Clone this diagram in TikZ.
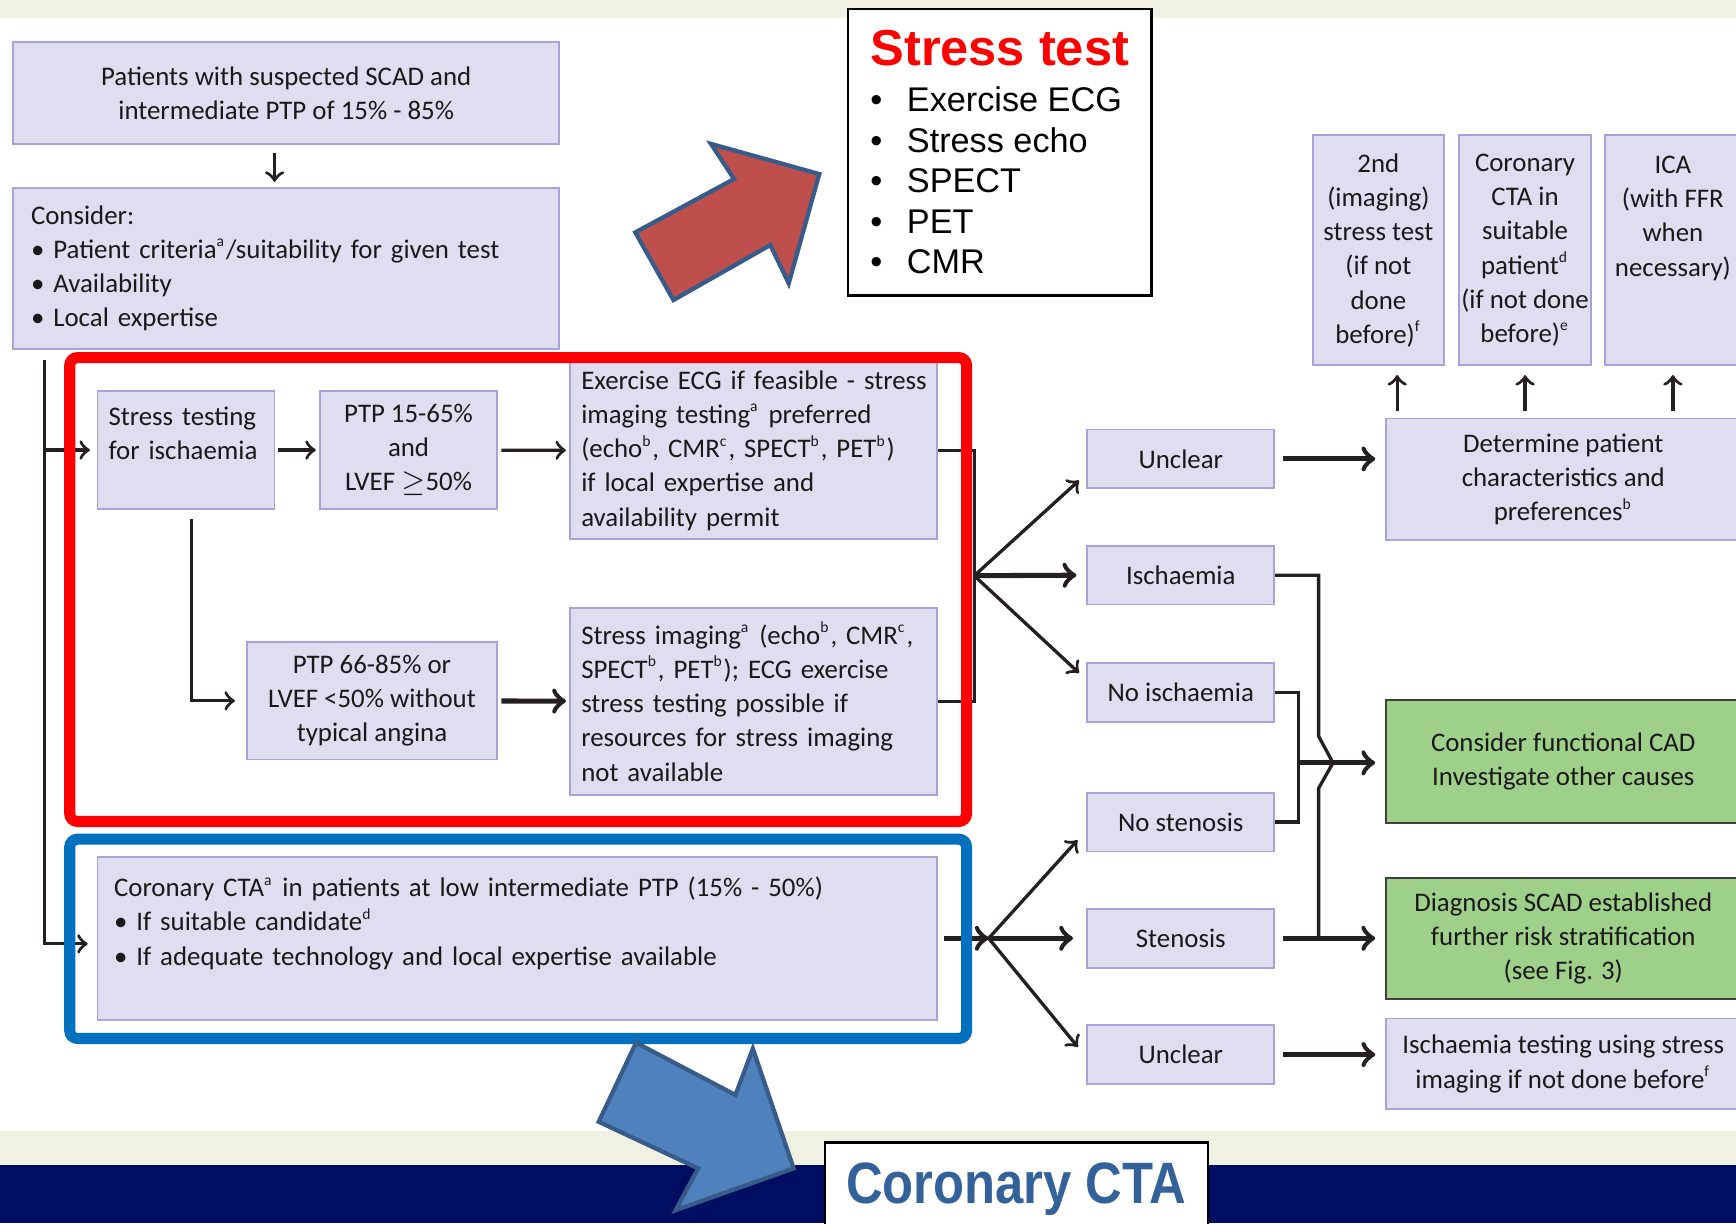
\documentclass[tikz,border=0pt]{standalone}
\usepackage{fontspec}
\usepackage{graphicx}
\usetikzlibrary{calc}

\newfontfamily\gillfont{Carlito}
\newfontfamily\arialfont{Liberation Sans}
\newcommand{\supra}[1]{\textsuperscript{\fontsize{4}{4}\selectfont #1}}

\definecolor{caixa}{rgb}{0.87,0.87,0.94}
\definecolor{caixaborda}{rgb}{0.66,0.64,0.84}
\definecolor{verde}{rgb}{0.62,0.815,0.54}
\definecolor{tinta}{rgb}{0.14,0.12,0.13}
\definecolor{vermelho}{rgb}{1,0,0}
\definecolor{azul}{rgb}{0,0.44,0.75}
\definecolor{setavermelha}{rgb}{0.75,0.31,0.30}
\definecolor{setaazul}{rgb}{0.31,0.51,0.74}
\definecolor{setaborda}{rgb}{0.22,0.36,0.54}
\definecolor{bege}{rgb}{0.94,0.94,0.89}
\definecolor{marinho}{rgb}{0,0.055,0.38}
\definecolor{ctatexto}{rgb}{0.2,0.38,0.6}

\begin{document}
\begin{tikzpicture}[
        x=0.1mm, y=-0.1mm,
        every node/.style={font=\gillfont\fontsize{6.9}{8.8}\selectfont, inner sep=0pt, text=black!90},
        nodebox/.style={rectangle, draw=caixaborda, fill=caixa, line width=0.45pt, align=center},
        nodeleft/.style={nodebox, align=left, inner xsep=1mm},
        nodeverde/.style={rectangle, draw=black!75, fill=verde, line width=0.5pt, align=center},
        nodeteste/.style={rectangle, draw=black, fill=white, line width=0.6pt, align=left, font=\arialfont\fontsize{8.8}{10.4}\selectfont, text=black},
        linha/.style={draw=tinta, line width=0.85pt},
        seta/.style={linha, ->},
        setagrossa/.style={seta, line width=1.3pt},
        moldura/.style={line width=1mm, rounded corners=0.7mm},
        blocoseta/.style={draw=setaborda, line width=1.1pt}
        ]
        \useasboundingbox (0,0) rectangle (1568,1105);
        \fill[white] (0,0) rectangle (1568,1105);
        \fill[bege] (0,0) rectangle (1568,16);
        \fill[bege] (0,1022) rectangle (1568,1052);
        \fill[marinho] (0,1052) rectangle (1568,1105);

        \node [nodebox, minimum width=49.3mm, minimum height=9.2mm] (patients) at (258.5,84)
          {Patients with suspected SCAD and\\intermediate PTP of 15\% - 85\%};
        \node [nodeleft, text width=46.1mm, inner xsep=1.6mm, minimum height=14.5mm] (consider) at (258.5,242.5)
          {Consider:\\• Patient criteria\supra{a}/suitability for given test\\• Availability\\• Local expertise};

        % bloco do teste de esforço
        \node [nodeleft, text width=14mm, minimum height=10.7mm] (stresstest) at (168,406.5) {Stress testing\\for ischaemia\\\mbox{}};
        \node [nodebox, minimum width=16mm, minimum height=10.7mm] (ptplow) at (369,406.5) {PTP 15-65\%\\and\\LVEF $\geq$50\%};
        \node [nodeleft, text width=31.1mm, minimum height=16mm] (exercise) at (680.5,407)
          {\mbox{Exercise ECG if feasible - stress}\\imaging testing\supra{a} preferred\\(echo\supra{b}, CMR\supra{c}, SPECT\supra{b}, PET\supra{b})\\if local expertise and\\availability permit};
        \node [nodebox, minimum width=22.6mm, minimum height=10.6mm] (ptphigh) at (336,633) {PTP 66-85\% or\\LVEF <50\% without\\typical angina};
        \node [nodeleft, text width=31.1mm, minimum height=16.9mm] (imaging) at (680.5,633.5)
          {\mbox{Stress imaging\supra{a} (echo\supra{b}, CMR\supra{c},}\\SPECT\supra{b}, PET\supra{b}); ECG exercise\\stress testing possible if\\resources for stress imaging\\not available};

        % bloco da angio-TC
        \node [nodeleft, text width=72.8mm, inner xsep=1.5mm, minimum height=14.7mm] (cta) at (467,847.5)
          {Coronary CTA\supra{a} in patients at low intermediate PTP (15\% - 50\%)\\• If suitable candidate\supra{d}\\• If adequate technology and local expertise available\\\mbox{}};

        \node [nodebox, minimum width=16.9mm, minimum height=5.3mm] (unclearA) at (1066.5,414.5) {Unclear};
        \node [nodebox, minimum width=16.9mm, minimum height=5.3mm] (ischaemia) at (1066.5,519.5) {Ischaemia};
        \node [nodebox, minimum width=16.9mm, minimum height=5.3mm] (noischaemia) at (1066.5,625.5) {No ischaemia};
        \node [nodebox, minimum width=16.9mm, minimum height=5.3mm] (nostenosis) at (1066.5,742.5) {No stenosis};
        \node [nodebox, minimum width=16.9mm, minimum height=5.3mm] (stenosis) at (1066.5,847.5) {Stenosis};
        \node [nodebox, minimum width=16.9mm, minimum height=5.3mm] (unclearB) at (1066.5,952.5) {Unclear};

        \node [nodebox, minimum width=32mm, minimum height=11mm] (determine) at (1412,433) {Determine patient\\characteristics and\\preferences\supra{b}};
        \node [nodebox, minimum width=11.8mm, minimum height=20.8mm] (secondtest) at (1245,226) {2nd\\(imaging)\\stress test\\(if not\\done\\before)\supra{f}};
        \node [nodebox, minimum width=11.9mm, minimum height=20.8mm] (ctasuitable) at (1377.5,226) {Coronary\\CTA in\\suitable\\patient\supra{d}\\(if not done\\before)\supra{e}};
        \node [nodebox, minimum width=12.2mm, minimum height=20.8mm] (ica) at (1511,226) {ICA\\(with FFR\\when\\necessary)\\\mbox{}\\\mbox{}};
        \node [nodeverde, minimum width=32mm, minimum height=11.1mm] (functional) at (1412,687.5) {Consider functional CAD\\Investigate other causes};
        \node [nodeverde, minimum width=32mm, minimum height=10.9mm] (diagnosis) at (1412,847.5) {Diagnosis SCAD established\\further risk stratification\\(see Fig. 3)};
        \node [nodebox, minimum width=32mm, minimum height=8.2mm] (ischtest) at (1412,961) {Ischaemia testing using stress\\imaging if not done before\supra{f}};

        % conectores
        \draw[seta, shorten <=0.7mm, shorten >=0.5mm] ([xshift=-1.05mm]patients.south) -- ([xshift=-1.05mm]consider.north);
        \coordinate (tronco) at (40,325);
        \draw[seta, shorten >=0.8mm] (tronco) |- ([yshift=-0.5mm]cta.west);
        \draw[seta, shorten >=0.6mm] (tronco |- stresstest.west) -- (stresstest.west);
        \draw[seta, shorten <=0.2mm, shorten >=0.3mm] (stresstest) -- (ptplow);
        \draw[seta, shorten <=0.3mm, shorten >=0.3mm] (ptplow) -- (exercise);
        \draw[seta, shorten >=1mm] ([xshift=0.5mm,yshift=-0.8mm]stresstest.south) |- (ptphigh.west);
        \draw[setagrossa, shorten <=0.3mm, shorten >=0.3mm] (ptphigh) -- (imaging);

        \coordinate (divide1) at (880,520);
        \draw[linha] (exercise.east) -| (divide1) |- (imaging.east);
        \draw[seta, shorten >=0.9mm] (divide1) -- ([yshift=-1.35mm]unclearA.west);
        \draw[setagrossa, shorten >=0.9mm] (divide1) -- (ischaemia.west);
        \draw[seta, shorten >=0.9mm] (divide1) -- ([yshift=1.15mm]noischaemia.west);

        \coordinate (divide2) at (893,847.5);
        \draw[setagrossa, shorten <=0.6mm] (cta.east) -- (divide2);
        \draw[seta, shorten >=1.2mm] (divide2) -- ([yshift=-0.75mm]nostenosis.west);
        \draw[setagrossa, shorten >=1.2mm] (divide2) -- (stenosis.west);
        \draw[seta, shorten >=1.2mm] (divide2) -- ([yshift=-0.25mm]unclearB.west);

        \draw[setagrossa, shorten <=0.7mm, shorten >=0.9mm] (unclearA.east) -- (unclearA.east -| determine.west);
        \draw[seta, shorten <=0.6mm, shorten >=0.8mm] ($(secondtest.south |- determine.north)+(17,0)$) -- ($(secondtest.south)+(17,0)$);
        \draw[seta, shorten <=0.6mm, shorten >=0.8mm] (ctasuitable.south |- determine.north) -- (ctasuitable.south);
        \draw[seta, shorten <=0.6mm, shorten >=0.8mm] (ica.south |- determine.north) -- (ica.south);

        \coordinate (salto1) at (1191,665);
        \coordinate (salto2) at (1204,689);
        \coordinate (salto3) at (1191,712);
        \draw[linha] (ischaemia.east) -| (salto1) -- (salto2) -- (salto3) -- (salto3 |- stenosis.east);
        \draw[setagrossa, shorten <=0.7mm, shorten >=0.9mm] (stenosis.east) -- (stenosis.east -| diagnosis.west);
        \coordinate (junta) at (1173,689);
        \draw[linha] (noischaemia.east) -| (junta) |- (nostenosis.east);
        \draw[setagrossa, shorten >=0.9mm] (junta) -- (junta -| functional.west);
        \draw[setagrossa, shorten <=0.7mm, shorten >=0.9mm] (unclearB.east) -- (unclearB.east -| ischtest.west);

        % molduras e setas grandes
        \draw[moldura, draw=vermelho] (63,323) rectangle (873,742);
        \draw[moldura, draw=azul] (63,758) rectangle (873,938);
        \filldraw[blocoseta, fill=setavermelha] (573.8,209.9) -- (608.3,271) -- (695.8,221.3) -- (712.4,255.9)
          -- (740,157.2) -- (642.2,130) -- (663,161.7) -- cycle;
        \filldraw[blocoseta, fill=setaazul] (574.5,941.8) -- (664.3,989) -- (680,947.2) -- (716.8,1055.3)
          -- (610.4,1093) -- (630.6,1055.3) -- (540.8,1013.2) -- cycle;

        \node [nodeteste, minimum width=27.4mm, minimum height=25.9mm] (stressbox) at (903,137.5)
          {\textcolor{red}{\fontsize{13}{13}\selectfont\bfseries Stress test}\\[1.5pt]
           \makebox[3.3mm][l]{•}Exercise ECG\\
           \makebox[3.3mm][l]{•}Stress echo\\
           \makebox[3.3mm][l]{•}SPECT\\
           \makebox[3.3mm][l]{•}PET\\
           \makebox[3.3mm][l]{•}CMR};
        \node [rectangle, draw=black, fill=white, line width=0.6pt, minimum width=34.6mm, minimum height=8.4mm,
          font=\arialfont\bfseries\fontsize{15}{16}\selectfont, text=ctatexto] (ctabox) at (918,1074)
          {\scalebox{0.87}[1]{Coronary CTA}};
\end{tikzpicture}
\end{document}
